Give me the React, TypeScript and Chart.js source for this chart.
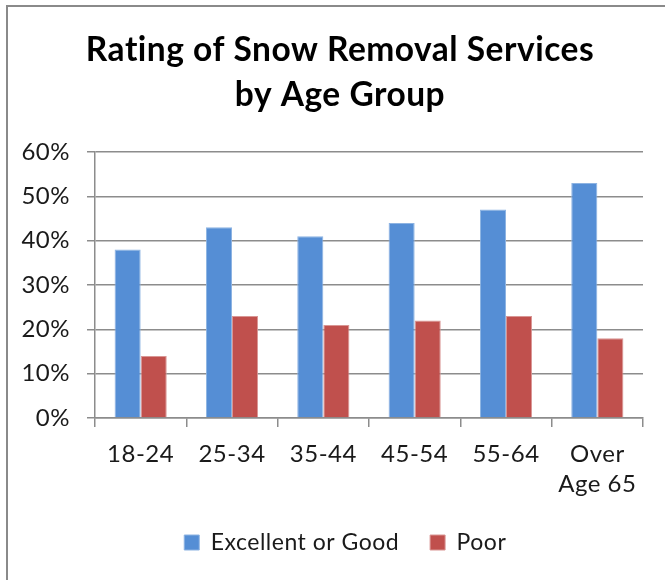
import React, { useEffect, useRef } from "react";
import { Chart, registerables } from "chart.js";

Chart.register(...registerables);

const TITLE_LINES = ["Rating of Snow Removal Services", "by Age Group"];
const CATEGORIES: (string | string[])[] = ["18-24", "25-34", "35-44", "45-54", "55-64", ["Over", "Age 65"]];
const SERIES_NAMES = ["Excellent or Good", "Poor"];
const EXCELLENT_OR_GOOD = [38, 43, 41, 44, 47, 53];
const POOR = [14, 23, 21, 22, 23, 18];
const Y_MIN = 0;
const Y_MAX = 60;
const Y_STEP = 10;

const FONT = "Lato, 'Open Sans', sans-serif";

const spacingPlugin = {
  id: "letterSpacing",
  beforeDraw(chart: any) {
    try {
      (chart.ctx as any).letterSpacing = "0.5px";
    } catch (e) {
      /* ignore */
    }
  },
};

export default function App() {
  const canvasRef = useRef<HTMLCanvasElement | null>(null);

  useEffect(() => {
    const canvas = canvasRef.current;
    if (!canvas) return;
    const chart = new Chart(canvas, {
      type: "bar",
      plugins: [spacingPlugin],
      data: {
        labels: CATEGORIES,
        datasets: [
          {
            label: SERIES_NAMES[0],
            data: EXCELLENT_OR_GOOD,
            backgroundColor: "#558ED5",
            borderColor: "#8DB3E2",
            borderWidth: 1,
            categoryPercentage: 0.571,
            barPercentage: 1.0,
          },
          {
            label: SERIES_NAMES[1],
            data: POOR,
            backgroundColor: "#C0504D",
            borderColor: "#D99694",
            borderWidth: 1,
            categoryPercentage: 0.571,
            barPercentage: 1.0,
          },
        ],
      },
      options: {
        responsive: false,
        animation: false,
        devicePixelRatio: 1,
        layout: { padding: { left: 37, right: 22, top: 0, bottom: 16 } },
        plugins: {
          title: {
            display: true,
            text: TITLE_LINES,
            color: "#000",
            font: { family: FONT, size: 33.5, weight: "bold", lineHeight: 1.343 },
            padding: { top: 28, bottom: 34 },
          },
          legend: {
            display: true,
            position: "bottom",
            labels: {
              color: "#1a1a1a",
              font: { family: FONT, size: 23 },
              boxWidth: 15,
              boxHeight: 15,
              padding: 31,
            },
          },
          tooltip: { enabled: false },
        },
        scales: {
          x: {
            afterFit: (scale: any) => {
              scale.height = 82;
              scale._computeLabelArea = () => undefined;
            },
            grid: {
              display: true,
              drawOnChartArea: false,
              drawTicks: true,
              tickLength: 9,
              color: "#8c8c8c",
              lineWidth: 1.5,
            },
            border: { display: true, color: "#8c8c8c", width: 1.5 },
            ticks: {
              color: "#1a1a1a",
              font: { family: FONT, size: 24, lineHeight: 1.25 },
              padding: 12,
              maxRotation: 0,
              autoSkip: false,
            },
          },
          y: {
            min: Y_MIN,
            max: Y_MAX,
            afterFit: (scale: any) => {
              scale.width = 58;
              scale._computeLabelArea = () => undefined;
            },
            grid: {
              color: "#8c8c8c",
              lineWidth: 1.5,
              drawTicks: true,
              tickLength: 8,
            },
            border: { display: true, color: "#8c8c8c", width: 1.5 },
            ticks: {
              stepSize: Y_STEP,
              color: "#1a1a1a",
              font: { family: FONT, size: 24 },
              padding: 17,
              callback: (v: any) => `${v}%`,
            },
          },
        },
      },
    });
    return () => chart.destroy();
  }, []);

  return (
    <div
      style={{
        position: "absolute",
        left: 0,
        top: 0,
        width: 665,
        height: 580,
        overflow: "hidden",
        background: "#fff",
      }}
    >
      <div
        style={{
          position: "absolute",
          left: 6,
          top: 5,
          width: 800,
          height: 800,
          borderLeft: "2px solid #8a8a8a",
          borderTop: "2px solid #8a8a8a",
        }}
      />
      <canvas
        ref={canvasRef}
        width={665}
        height={580}
        style={{ position: "absolute", left: 0, top: 0, width: 665, height: 580 }}
      />
    </div>
  );
}
